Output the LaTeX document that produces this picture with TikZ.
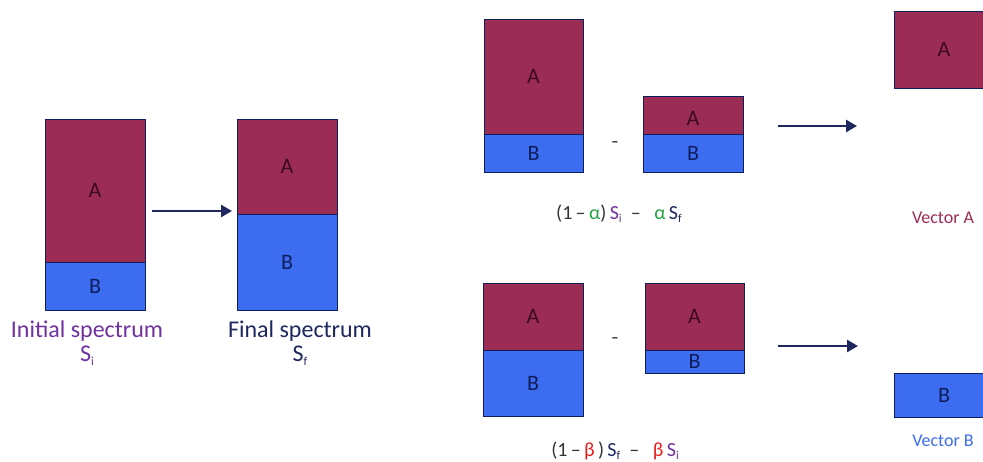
\documentclass[tikz,border=0pt]{standalone}
\usepackage{fontspec}
\setmainfont{Carlito}
\usetikzlibrary{arrows.meta}
\definecolor{maroon}{RGB}{155,44,84}
\definecolor{bblue}{RGB}{60,108,240}
\definecolor{adark}{RGB}{60,10,30}
\definecolor{bdark}{RGB}{15,30,90}
\definecolor{navy}{RGB}{30,40,95}
\definecolor{purp}{RGB}{112,48,160}
\definecolor{grn}{RGB}{40,160,70}
\definecolor{rd}{RGB}{230,30,30}
\newcommand\subsc[1]{\raisebox{-0.35ex}{\fontsize{12}{12}\selectfont #1}}
\tikzset{
  partA/.style={draw=bdark, fill=maroon, inner sep=0pt, outer sep=0pt, line width=0.8pt, text=adark, font=\fontsize{22}{22}\selectfont, anchor=north west},
  partB/.style={draw=bdark, fill=bblue, inner sep=0pt, outer sep=0pt, line width=0.8pt, text=bdark, font=\fontsize{22}{22}\selectfont, anchor=north west},
  bigarrow/.style={draw=navy, line width=2.6pt, -{Triangle[length=11pt,width=12pt]}},
  lbl/.style={font=\fontsize{24}{26}\selectfont, inner sep=0pt},
  formula/.style={font=\fontsize{20}{22}\selectfont, inner sep=0pt, text=black!80},
  vlabel/.style={font=\fontsize{18}{20}\selectfont, inner sep=0pt},
  minus/.style={font=\fontsize{22}{22}\selectfont, inner sep=0pt, text=black!70}
}
\begin{document}
\begin{tikzpicture}[x=1pt,y=-1pt]
\useasboundingbox (0,0) rectangle (983,462);
\clip (0,0) rectangle (983,462);
% left: initial and final spectra
\node[partA, minimum width=100pt, minimum height=143pt] (iA) at (45,119) {A};
\node[partB, minimum width=100pt, minimum height=48pt] (iB) at (45,262) {B};
\node[partA, minimum width=100pt, minimum height=95pt] (fA) at (237,119) {A};
\node[partB, minimum width=100pt, minimum height=96pt] (fB) at (237,214) {B};
\coordinate (l1) at (152,211);
\coordinate (l2) at (232,211);
\draw[bigarrow] (l1) -- (l2);
\node[lbl, text=purp] (ilbl) at (87,331) {Initial spectrum};
\node[lbl, text=purp] (isub) at (87,356) {S\subsc{i}};
\node[lbl, text=navy] (flbl) at (300,331) {Final spectrum};
\node[lbl, text=navy] (fsub) at (300,356) {S\subsc{f}};
% top right
\node[partA, minimum width=99pt, minimum height=115pt] (tA1) at (484,19) {A};
\node[partB, minimum width=99pt, minimum height=38pt] (tB1) at (484,134) {B};
\node[minus] (tm) at (615,145) {-};
\node[partA, minimum width=100pt, minimum height=38pt, text depth=0pt] (tA2) at (643,96) {\raisebox{-7pt}{A}};
\node[partB, minimum width=100pt, minimum height=38pt] (tB2) at (643,134) {B};
\coordinate (t1) at (778,126);
\coordinate (t2) at (857,126);
\draw[bigarrow] (t1) -- (t2);
\node[partA, minimum width=100pt, minimum height=77pt] (vA) at (894,11) {A};
\node[vlabel, text=maroon] (vAl) at (943,218) {Vector A};
\node[formula] (tf) at (619,214) {(1\,–\,\textcolor{grn}{α})\,\textcolor{purp}{S\subsc{i}}\ \ –\ \ \ \textcolor{grn}{α}\,\textcolor{navy}{S\subsc{f}}};
% bottom right
\node[partA, minimum width=100pt, minimum height=67pt] (bA1) at (483,283) {A};
\node[partB, minimum width=100pt, minimum height=66pt] (bB1) at (483,350) {B};
\node[minus] (bm) at (615,341) {-};
\node[partA, minimum width=99pt, minimum height=67pt] (bA2) at (645,283) {A};
\node[partB, minimum width=99pt, minimum height=23pt] (bB2) at (645,350) {\raisebox{-6pt}{B}};
\coordinate (b1) at (778,346);
\coordinate (b2) at (858,346);
\draw[bigarrow] (b1) -- (b2);
\node[partB, minimum width=100pt, minimum height=44pt] (vB) at (894,373) {B};
\node[vlabel, text=bblue] (vBl) at (943,441) {Vector B};
\node[formula] (bf) at (615,451) {(1\,–\,\textcolor{rd}{β}\,)\,\textcolor{navy}{S\subsc{f}}\ \ –\ \ \ \textcolor{rd}{β}\,\textcolor{purp}{S\subsc{i}}};
\end{tikzpicture}
\end{document}
